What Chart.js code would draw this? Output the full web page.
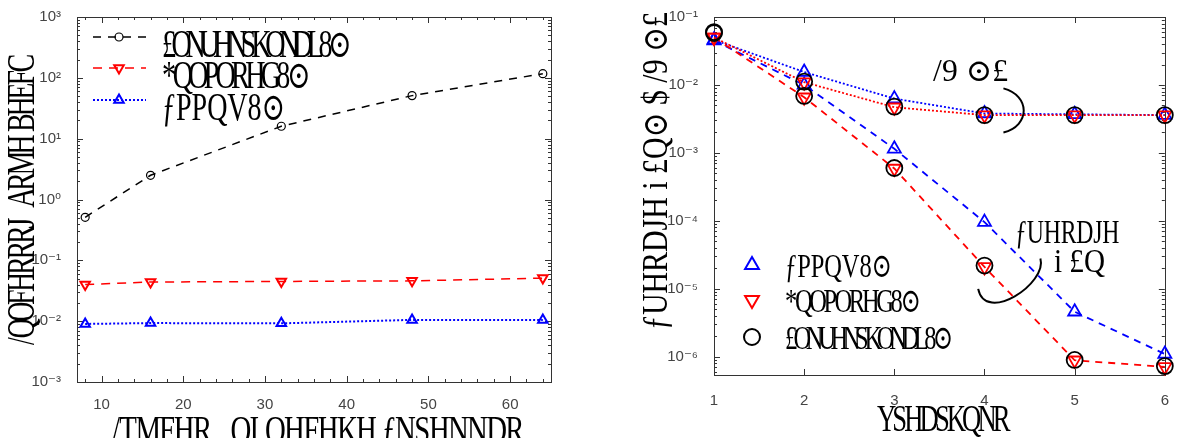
<!DOCTYPE html>
<html>
<head>
<meta charset="utf-8">
<script src="https://cdn.jsdelivr.net/npm/chart.js@4.4.1/dist/chart.umd.min.js"></script>
<style>
html, body { margin: 0; padding: 0; background: #fff; overflow: hidden; }
#wrap { position: relative; width: 1178px; height: 438px; }
canvas { position: absolute; top: 0; }
#left { left: 0; }
#right { left: 590px; }
</style>
</head>
<body>
<div id="wrap">
  <canvas id="left" width="560" height="438"></canvas>
  <canvas id="right" width="588" height="438"></canvas>
</div>
<script>
// datos del grafico izquierdo (tiempo vs nodos)
const nodos = [8, 16, 32, 48, 64];
const tiempoNegro = [0.51, 2.5, 16, 51, 117];
const tiempoRojo = [0.040, 0.044, 0.045, 0.046, 0.051];
const tiempoAzul = [0.0090, 0.0093, 0.0092, 0.0105, 0.0105];
const ticksXIzq = [10, 20, 30, 40, 50, 60];
const ticksYIzq = [1e-3, 1e-2, 1e-1, 1, 1e1, 1e2, 1e3];

// datos del grafico derecho (error vs iteracion)
const iteraciones = [1, 2, 3, 4, 5, 6];
const azulPunteado = [0.046, 0.0155, 0.0063, 0.0038, 0.0037, 0.0036];
const rojoPunteado = [0.050, 0.0110, 0.0047, 0.0036, 0.0036, 0.0036];
const negroPunteado = [0.060, 0.0112, 0.0048, 0.0036, 0.0036, 0.0036];
const azulRayado = [0.045, 0.0100, 0.00115, 9.6e-5, 4.6e-6, 1.1e-6];
const rojoRayado = [0.050, 0.0066, 5.9e-4, 2.1e-5, 8.9e-7, 7.1e-7];
const negroRayado = [0.058, 0.0069, 6.0e-4, 2.2e-5, 9.0e-7, 7.3e-7];
const ticksXDer = [1, 2, 3, 4, 5, 6];
const ticksYDer = [1e-6, 1e-5, 1e-4, 1e-3, 1e-2, 1e-1];

// textos (tal cual se ven en la figura)
const nombres = ['£ONUHNSKONDL8⊙', '*QOPORHG8⊙', 'ƒPPQV8⊙'];
const tituloXIzq = '/TMFHR   OI QHFHKH ƒNSHNNDR';
const tituloYIzq = '/QOFHRRRJ  ARMH BHEFC';
const tituloXDer = 'YSHDSKQNR';
const tituloYDer = 'ƒUHRDJH i £Q⊙ $ /9 ⊙£';
const grupoPunteado = '/9 ⊙£';
const grupoRayado = ['ƒUHRDJH', 'i £Q'];

const serif = '"Liberation Serif", "DejaVu Serif", serif';
const fuenteTicks = { family: '"Liberation Sans", "DejaVu Sans", sans-serif', size: 15 };
const sup = { '-': '⁻', '0': '⁰', '1': '¹', '2': '²', '3': '³', '4': '⁴', '5': '⁵', '6': '⁶', '7': '⁷', '8': '⁸', '9': '⁹' };
const etiquetaPot = v => '10' + String(Math.round(Math.log10(v))).split('').map(c => sup[c]).join('');

const pts = (xs, ys) => xs.map((x, i) => ({ x: x, y: ys[i] }));

// texto angosto y apretado: letras algo comprimidas y encimadas hasta ocupar el ancho pedido
function textoAjustado(ctx, str, x, y, ancho, size, vertical) {
    ctx.save();
    ctx.font = size + 'px ' + serif;
    ctx.fillStyle = '#000';
    ctx.textAlign = 'left';
    ctx.textBaseline = 'alphabetic';
    const letras = Array.from(str);
    const anchos = letras.map(c => ctx.measureText(c).width);
    const total = anchos.reduce((s, w) => s + w, 0);
    let sx = 0.72;
    let k = (ancho / sx) / total;
    if (k > 1) { sx = ancho / total; k = 1; }
    ctx.translate(x, y);
    if (vertical) ctx.rotate(-Math.PI / 2);
    ctx.scale(sx, 1);
    let cx = 0;
    letras.forEach((c, i) => {
        ctx.fillText(c, cx, 0);
        cx += anchos[i] * k;
    });
    ctx.restore();
}

function marcador(ctx, estilo, x, y, r, color, lw) {
    ctx.save();
    ctx.strokeStyle = color;
    ctx.lineWidth = lw;
    ctx.setLineDash([]);
    ctx.beginPath();
    if (estilo === 'circle') {
        ctx.arc(x, y, r, 0, Math.PI * 2);
    } else {
        const s = estilo === 'down' ? -1 : 1;
        ctx.moveTo(x, y - s * r);
        ctx.lineTo(x + r * 0.866, y + s * r * 0.5);
        ctx.lineTo(x - r * 0.866, y + s * r * 0.5);
        ctx.closePath();
    }
    ctx.stroke();
    ctx.restore();
}

// caja estilo matlab con ticks hacia adentro
const cajaPlugin = {
    id: 'caja',
    beforeDatasetsDraw(chart, args, opts) {
        const { ctx, chartArea: a, scales: { x, y } } = chart;
        ctx.save();
        ctx.strokeStyle = '#333';
        ctx.lineWidth = 1;
        ctx.strokeRect(Math.round(a.left) + 0.5, Math.round(a.top) + 0.5, Math.round(a.right - a.left), Math.round(a.bottom - a.top));
        const tx = (v, len) => {
            const px = Math.round(x.getPixelForValue(v)) + 0.5;
            ctx.moveTo(px, a.bottom); ctx.lineTo(px, a.bottom - len);
            ctx.moveTo(px, a.top); ctx.lineTo(px, a.top + len);
        };
        const ty = (v, len) => {
            const py = Math.round(y.getPixelForValue(v)) + 0.5;
            ctx.moveTo(a.left, py); ctx.lineTo(a.left + len, py);
            ctx.moveTo(a.right, py); ctx.lineTo(a.right - len, py);
        };
        ctx.beginPath();
        x.ticks.forEach(t => tx(t.value, 6));
        (opts.xMenores || []).forEach(v => tx(v, 3));
        y.ticks.forEach(t => ty(t.value, 6));
        for (let e = Math.floor(Math.log10(y.min)); e < Math.log10(y.max); e++) {
            for (let m = 2; m < 10; m++) {
                const v = m * Math.pow(10, e);
                if (v > y.min && v < y.max) ty(v, 3);
            }
        }
        ctx.stroke();
        ctx.restore();
    }
};

// ---------- grafico izquierdo ----------
const menoresIzq = [];
for (let v = 8; v <= 64; v += 2) if (v % 10 !== 0) menoresIzq.push(v);

const decoIzq = {
    id: 'decoIzq',
    afterDraw(chart) {
        const ctx = chart.ctx;
        const ds = chart.data.datasets;
        const filas = [37, 68, 100];
        const anchos = [182, 143, 123];
        const estilos = ['circle', 'down', 'up'];
        filas.forEach((fy, i) => {
            ctx.save();
            ctx.strokeStyle = ds[i].borderColor;
            ctx.lineWidth = ds[i].borderWidth;
            ctx.setLineDash(ds[i].borderDash);
            ctx.beginPath();
            ctx.moveTo(93, fy); ctx.lineTo(146, fy);
            ctx.stroke();
            ctx.restore();
            marcador(ctx, estilos[i], 119, fy, ds[i].pointRadius, ds[i].borderColor, ds[i].pointBorderWidth);
            textoAjustado(ctx, nombres[i], 162, fy + 20, anchos[i], 39, false);
        });
        textoAjustado(ctx, tituloXIzq, 112, 443, 411, 40, false);
        textoAjustado(ctx, tituloYIzq, 34, 345, 288, 39, true);
    }
};

const configIzq = {
    type: 'line',
    data: {
        datasets: [
            {
                label: nombres[0],
                data: pts(nodos, tiempoNegro),
                borderColor: '#000',
                borderWidth: 1.5,
                borderDash: [8, 7],
                pointStyle: 'circle',
                pointRadius: 4,
                pointBorderWidth: 1.2,
                pointBackgroundColor: 'rgba(0,0,0,0)'
            }, {
                label: nombres[1],
                data: pts(nodos, tiempoRojo),
                borderColor: '#ff0000',
                borderWidth: 1.5,
                borderDash: [9, 7],
                pointStyle: 'triangle',
                rotation: 180,
                pointRadius: 5.5,
                pointBorderWidth: 2,
                pointBackgroundColor: 'rgba(0,0,0,0)'
            }, {
                label: nombres[2],
                data: pts(nodos, tiempoAzul),
                borderColor: '#0000ff',
                borderWidth: 2,
                borderDash: [2, 2],
                pointStyle: 'triangle',
                pointRadius: 5.5,
                pointBorderWidth: 2,
                pointBackgroundColor: 'rgba(0,0,0,0)'
            }
        ]
    },
    options: {
        responsive: false,
        animation: false,
        layout: { padding: { top: 12, right: 9, left: 0, bottom: 0 } },
        datasets: { line: { clip: false, tension: 0 } },
        plugins: { legend: { display: false }, tooltip: { enabled: false }, caja: { xMenores: menoresIzq } },
        scales: {
            x: {
                type: 'linear', min: 7, max: 65,
                afterBuildTicks: s => { s.ticks = ticksXIzq.map(v => ({ value: v })); },
                afterFit: s => { s.height = 56; },
                grid: { display: false }, border: { display: false },
                ticks: { font: fuenteTicks, color: '#444', padding: 6, maxRotation: 0 }
            },
            y: {
                type: 'logarithmic', min: 1e-3, max: 1e3,
                afterBuildTicks: s => { s.ticks = ticksYIzq.map(v => ({ value: v })); },
                afterFit: s => { s.width = 77; },
                grid: { display: false }, border: { display: false },
                ticks: { font: fuenteTicks, color: '#444', padding: 8, callback: v => etiquetaPot(v) }
            }
        }
    },
    plugins: [cajaPlugin, decoIzq]
};

new Chart(document.getElementById('left'), configIzq);

// ---------- grafico derecho ----------
const decoDer = {
    id: 'decoDer',
    afterDraw(chart) {
        const { ctx, scales: { x, y } } = chart;
        const P = (xv, yv) => [x.getPixelForValue(xv), y.getPixelForValue(yv)];
        // leyenda (solo marcadores)
        const filas = [265, 300, 337];
        const anchos = [107, 132, 162];
        const estilos = ['up', 'down', 'circle'];
        const colores = ['#0000ff', '#ff0000', '#000'];
        const orden = [2, 1, 0];
        filas.forEach((fy, i) => {
            marcador(ctx, estilos[i], 162, fy, 8, colores[i], 2);
            textoAjustado(ctx, nombres[orden[i]], 195, fy + 12, anchos[i], 34, false);
        });
        textoAjustado(ctx, tituloXDer, 287, 431, 130, 37, false);
        textoAjustado(ctx, tituloYDer, 77, 330, 318, 35, true);

        // anotaciones de los dos grupos
        ctx.save();
        ctx.strokeStyle = '#000';
        ctx.lineWidth = 2;
        ctx.beginPath();
        let a = P(4.21, 0.0089), c1 = P(4.51, 0.0070), c2 = P(4.51, 0.0025), b = P(4.21, 0.0020);
        ctx.moveTo(a[0], a[1]);
        ctx.bezierCurveTo(c1[0], c1[1], c2[0], c2[1], b[0], b[1]);
        a = P(4.62, 2.8e-5); c1 = P(4.70, 1.2e-5); c2 = P(4.01, 3.0e-6); b = P(3.93, 1.0e-5);
        ctx.moveTo(a[0], a[1]);
        ctx.bezierCurveTo(c1[0], c1[1], c2[0], c2[1], b[0], b[1]);
        ctx.stroke();
        ctx.restore();
        let t = P(3.43, 0.0116);
        textoAjustado(ctx, grupoPunteado, t[0], t[1], 75, 31, false);
        t = P(4.34, 4.7e-5);
        textoAjustado(ctx, grupoRayado[0], t[0], t[1], 104, 33, false);
        t = P(4.77, 1.75e-5);
        textoAjustado(ctx, grupoRayado[1], t[0], t[1], 51, 33, false);
    }
};

const circulo = (datos) => ({
    data: pts(iteraciones, datos),
    showLine: false,
    borderColor: '#000',
    pointStyle: 'circle',
    pointRadius: 8,
    pointBorderWidth: 1.8,
    pointBackgroundColor: 'rgba(0,0,0,0)'
});
const serieDer = (datos, color, dash, estilo) => ({
    data: pts(iteraciones, datos),
    borderColor: color,
    borderWidth: 1.8,
    borderDash: dash,
    pointStyle: 'triangle',
    rotation: estilo === 'down' ? 180 : 0,
    pointRadius: 7.5,
    pointBorderWidth: 1.8,
    pointBackgroundColor: 'rgba(0,0,0,0)'
});

const configDer = {
    type: 'line',
    data: {
        datasets: [
            circulo(negroPunteado),
            circulo(negroRayado),
            serieDer(rojoPunteado, '#ff0000', [2, 2], 'down'),
            serieDer(rojoRayado, '#ff0000', [7, 6], 'down'),
            serieDer(azulPunteado, '#0000ff', [2, 2], 'up'),
            serieDer(azulRayado, '#0000ff', [7, 6], 'up')
        ]
    },
    options: {
        responsive: false,
        animation: false,
        layout: { padding: { top: 16, right: 13, left: 0, bottom: 0 } },
        datasets: { line: { clip: false, tension: 0 } },
        plugins: { legend: { display: false }, tooltip: { enabled: false }, caja: {} },
        scales: {
            x: {
                type: 'linear', min: 1, max: 6,
                afterBuildTicks: s => { s.ticks = ticksXDer.map(v => ({ value: v })); },
                afterFit: s => { s.height = 63; },
                grid: { display: false }, border: { display: false },
                ticks: { font: fuenteTicks, color: '#444', padding: 9, maxRotation: 0 }
            },
            y: {
                type: 'logarithmic', min: 5.4e-7, max: 1e-1,
                afterBuildTicks: s => { s.ticks = ticksYDer.map(v => ({ value: v })); },
                afterFit: s => { s.width = 124; },
                grid: { display: false }, border: { display: false },
                ticks: { font: fuenteTicks, color: '#444', padding: 8, callback: v => etiquetaPot(v) }
            }
        }
    },
    plugins: [cajaPlugin, decoDer]
};

new Chart(document.getElementById('right'), configDer);
</script>
</body>
</html>
